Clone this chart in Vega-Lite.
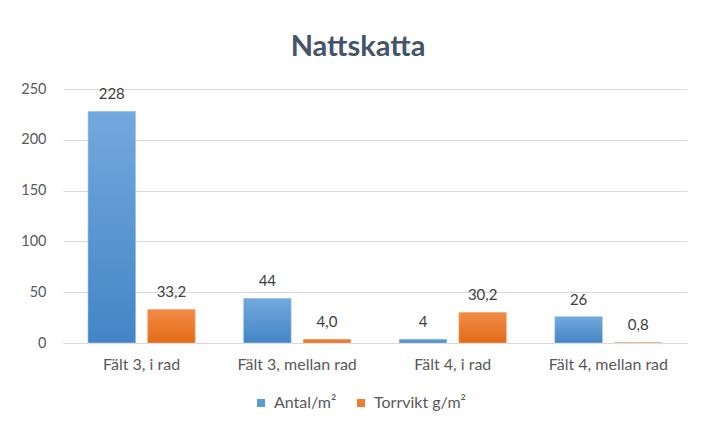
{
  "$schema": "https://vega.github.io/schema/vega-lite/v6.json",
  "width": 624,
  "height": 254,
  "autosize": {"type": "none"},
  "padding": {"left": 63, "top": 89, "right": 14, "bottom": 85},
  "background": "white",
  "title": {
    "text": "Nattskatta",
    "font": "Lato",
    "fontSize": 29,
    "fontWeight": "bold",
    "color": "#44546A",
    "anchor": "middle",
    "dx": -17,
    "offset": 19
  },
  "data": {
    "values": [
      {"falt": "Fält 3, i rad", "serie": "Antal/m²", "varde": 228, "etikett": "228"},
      {"falt": "Fält 3, i rad", "serie": "Torrvikt g/m²", "varde": 33.2, "etikett": "33,2"},
      {"falt": "Fält 3, mellan rad", "serie": "Antal/m²", "varde": 44, "etikett": "44"},
      {"falt": "Fält 3, mellan rad", "serie": "Torrvikt g/m²", "varde": 4.0, "etikett": "4,0"},
      {"falt": "Fält 4, i rad", "serie": "Antal/m²", "varde": 4, "etikett": "4"},
      {"falt": "Fält 4, i rad", "serie": "Torrvikt g/m²", "varde": 30.2, "etikett": "30,2"},
      {"falt": "Fält 4, mellan rad", "serie": "Antal/m²", "varde": 26, "etikett": "26"},
      {"falt": "Fält 4, mellan rad", "serie": "Torrvikt g/m²", "varde": 0.8, "etikett": "0,8"}
    ]
  },
  "encoding": {
    "x": {
      "field": "falt",
      "type": "nominal",
      "sort": null,
      "scale": {"paddingInner": 0.31, "paddingOuter": 0.16},
      "axis": {
        "title": null,
        "labelAngle": 0,
        "labelFont": "Lato",
        "labelFontSize": 16,
        "labelColor": "#595959",
        "labelPadding": 13,
        "domain": true,
        "domainColor": "#D9D9D9",
        "ticks": false,
        "grid": false
      }
    },
    "xOffset": {
      "field": "serie",
      "type": "nominal",
      "sort": null,
      "scale": {"domain": ["Antal/m²", "Torrvikt g/m²"], "paddingInner": 0.2, "paddingOuter": 0}
    },
    "y": {
      "field": "varde",
      "type": "quantitative",
      "scale": {"domain": [0, 250]},
      "axis": {
        "title": null,
        "values": [0, 50, 100, 150, 200, 250],
        "labelFont": "Lato",
        "labelFontSize": 14.5,
        "labelColor": "#595959",
        "labelPadding": 17,
        "ticks": false,
        "domain": false,
        "gridColor": "#D9D9D9",
        "gridWidth": 1
      }
    }
  },
  "layer": [
    {
      "mark": {"type": "bar"},
      "encoding": {
        "color": {
          "field": "serie",
          "type": "nominal",
          "sort": null,
          "scale": {
            "domain": ["Antal/m²", "Torrvikt g/m²"],
            "range": ["#5B9BD5", "#ED7D31"]
          },
          "legend": {
            "title": null,
            "orient": "none",
            "legendX": 190,
            "legendY": 306,
            "padding": 0,
            "direction": "horizontal",
            "symbolType": "square",
            "symbolSize": 64,
            "symbolStrokeWidth": 0,
            "labelFont": "Lato",
            "labelFontSize": 16,
            "labelColor": "#595959",
            "labelOffset": 5,
            "columnPadding": 16
          }
        }
      }
    },
    {
      "transform": [{"filter": "datum.serie === 'Antal/m²'"}],
      "mark": {
        "type": "bar",
        "stroke": "#FFFFFF",
        "strokeWidth": 0.7,
        "strokeOpacity": 0.5,
        "color": {"gradient": "linear", "x1": 0, "y1": 0, "x2": 0, "y2": 1,
          "stops": [{"offset": 0, "color": "#73A9DD"}, {"offset": 1, "color": "#4485C6"}]}
      },
      "encoding": {}
    },
    {
      "transform": [{"filter": "datum.serie === 'Torrvikt g/m²'"}],
      "mark": {
        "type": "bar",
        "stroke": "#FFFFFF",
        "strokeWidth": 0.7,
        "strokeOpacity": 0.5,
        "color": {"gradient": "linear", "x1": 0, "y1": 0, "x2": 0, "y2": 1,
          "stops": [{"offset": 0, "color": "#F28B48"}, {"offset": 1, "color": "#E36B16"}]}
      },
      "encoding": {}
    },
    {
      "mark": {"type": "text", "baseline": "bottom", "dy": -9, "font": "Lato", "fontSize": 15, "color": "#404040"},
      "encoding": {
        "text": {"field": "etikett"}
      }
    }
  ],
  "config": {
    "view": {"stroke": null}
  }
}
